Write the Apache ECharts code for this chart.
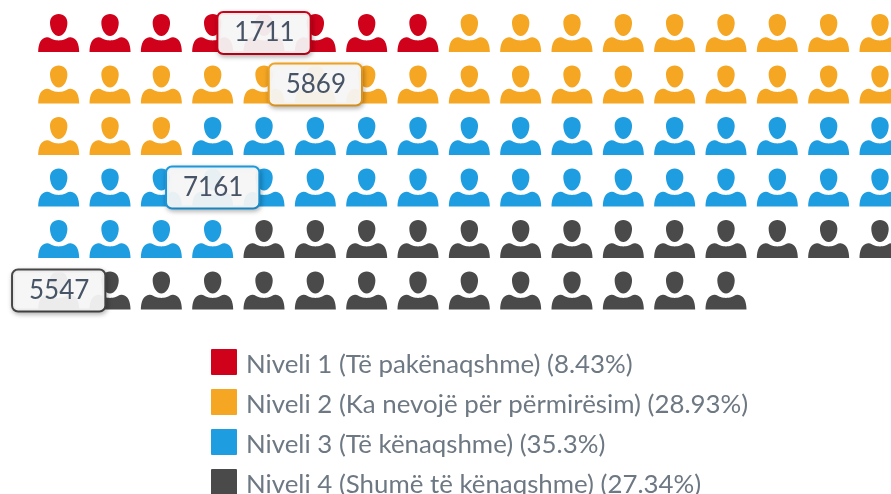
<!DOCTYPE html>
<html>
<head>
<meta charset="utf-8">
<style>html,body{margin:0;padding:0;background:#fff;overflow:hidden}#c{width:891px;height:494px}</style>
<script src="https://cdn.jsdelivr.net/npm/echarts@6/dist/echarts.min.js"></script>
</head>
<body>
<div id="c"></div>
<script>
const levels = ["Niveli 1 (Të pakënaqshme)", "Niveli 2 (Ka nevojë për përmirësim)", "Niveli 3 (Të kënaqshme)", "Niveli 4 (Shumë të kënaqshme)"];
const percents = [8.43, 28.93, 35.3, 27.34];
const values = [1711, 5869, 7161, 5547];
const iconCounts = [8, 29, 35, 27];
const colors = ["#d0021b", "#f5a623", "#1e9de1", "#4a4a4a"];
const perRow = 17;
const person = "path://M20.5 0C25.7 0 29.2 3.6 29.2 8.8C29.2 12 28.4 15 27 17.4C25 20.6 22.7 22 20.5 22C18.3 22 16 20.6 14 17.4C12.6 15 11.8 12 11.8 8.8C11.8 3.6 15.3 0 20.5 0Z" +
  "M0 38C0 30 2.6 23.8 8.6 23.2C11.4 23 13 24.8 15 25.6C17 26.3 19 26.5 20.5 26.5C22 26.5 24 26.3 26 25.6C28 24.8 29.6 23 32.4 23.2C38.4 23.8 41 30 41 38Z";

let cursor = 0;
const series = levels.map((name, s) => {
  const n = iconCounts[s];
  const data = [];
  for (let i = 0; i < n; i++) {
    const item = { value: [cursor % perRow, Math.floor(cursor / perRow)] };
    if (i === Math.floor(n / 2)) {
      item.label = {
        show: true,
        position: "inside",
        formatter: String(values[s]),
        fontFamily: "Lato",
        fontSize: 26,
        color: "#475466",
        backgroundColor: "rgba(250,250,250,0.93)",
        borderColor: colors[s],
        borderWidth: 2,
        borderRadius: 5,
        padding: [8, 15, 6, 16],
        shadowColor: "rgba(0,0,0,0.25)",
        shadowBlur: 5,
        shadowOffsetX: 1,
        shadowOffsetY: 2
      };
    }
    data.push(item);
    cursor++;
  }
  return {
    name, type: "scatter", data,
    symbol: person, symbolSize: [41, 38],
    itemStyle: { color: colors[s], opacity: 1 },
    z: 2, silent: true, animation: false,
    labelLayout: { hideOverlap: false }
  };
});

const chart = echarts.init(document.getElementById("c"), null, { renderer: "canvas" });
chart.setOption({
  animation: false,
  backgroundColor: "#fff",
  grid: { left: 58.7, top: 33, width: 821.3, height: 257.5 },
  xAxis: { type: "value", min: 0, max: 16, show: false },
  yAxis: { type: "value", min: 0, max: 5, inverse: true, show: false },
  legend: {
    orient: "vertical", left: 211, top: 349, height: 300, padding: 0,
    icon: "path://M1 0H25Q26 0 26 1V25Q26 26 25 26H1Q0 26 0 25V1Q0 0 1 0Z",
    itemWidth: 26, itemHeight: 26, itemGap: 11,
    selectedMode: false,
    data: levels,
    formatter: (name) => "{t|" + name + " (" + percents[levels.indexOf(name)] + "%)}",
    textStyle: {
      fontFamily: "Lato", fontSize: 25.85, color: "#6d7883",
      rich: { t: { fontFamily: "Lato", fontSize: 25.85, color: "#6d7883", padding: [6, 0, 0, 4] } }
    }
  },
  series
});
</script>
</body>
</html>
